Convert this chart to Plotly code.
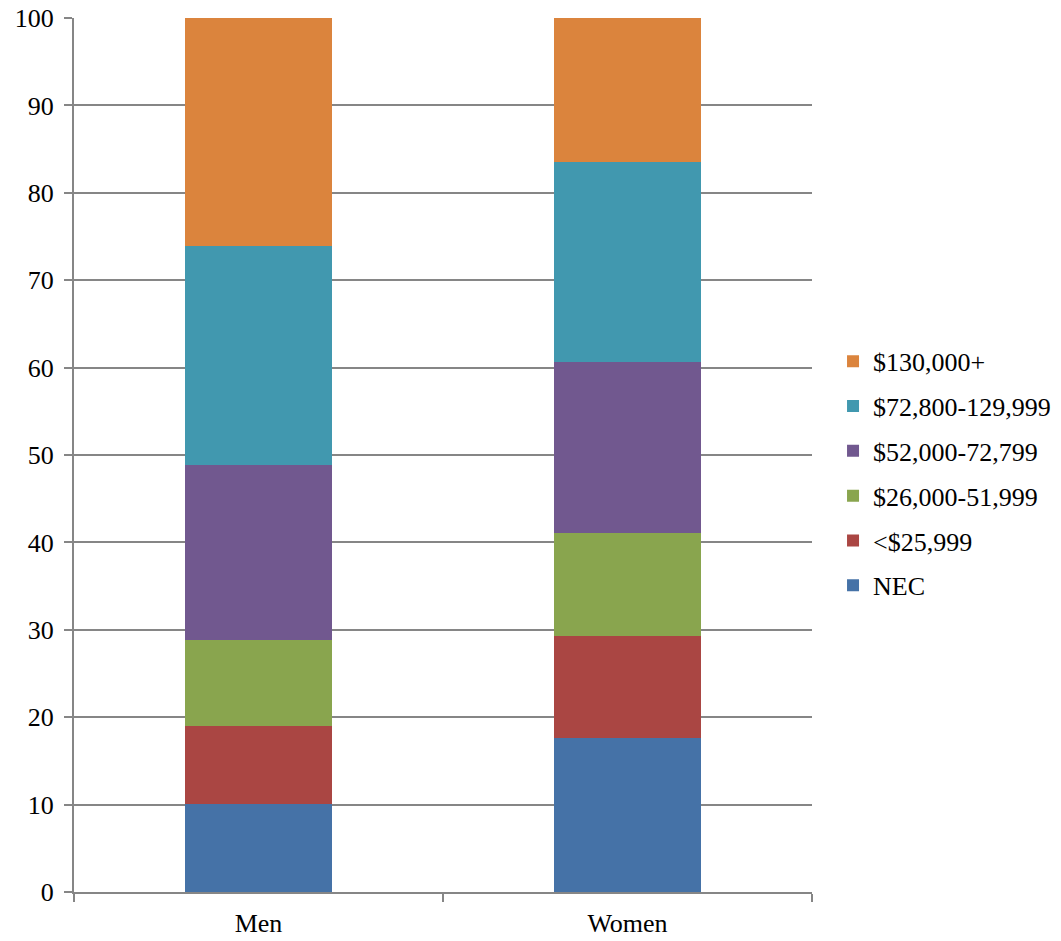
import plotly.graph_objects as go

categories = ["Men", "Women"]
series_names = ["NEC", "<$25,999", "$26,000-51,999", "$52,000-72,799", "$72,800-129,999", "$130,000+"]
nec = [10.1, 17.6]
under_26k = [8.9, 11.7]
r26_52k = [9.8, 11.8]
r52_73k = [20.1, 19.5]
r73_130k = [25.0, 22.9]
over_130k = [26.1, 16.5]
colors = ["#4572A7", "#AA4643", "#89A54E", "#71588F", "#4198AF", "#DB843D"]

values = [nec, under_26k, r26_52k, r52_73k, r73_130k, over_130k]

FONT = "'Times New Roman', 'Liberation Serif', serif"

fig = go.Figure()
n = len(series_names)
for i, (name, vals, col) in enumerate(zip(series_names, values, colors)):
    fig.add_trace(go.Bar(
        x=categories, y=vals, name=name, legendgroup=name,
        legendrank=n - i,
        marker=dict(color=col, line=dict(width=0)),
    ))

fig.update_layout(
    barmode="stack",
    bargap=0.6,
    width=1061, height=941,
    margin=dict(l=74, r=249, t=18, b=49, autoexpand=False),
    paper_bgcolor="white", plot_bgcolor="white",
    font=dict(family=FONT, size=26, color="black"),
    legend=dict(
        x=1.0285, y=0.479, xanchor="left", yanchor="middle",
        traceorder="grouped", tracegroupgap=8,
        font=dict(family=FONT, size=26, color="black"),
    ),
    xaxis=dict(
        showline=True, linecolor="#868686", linewidth=2,
        ticks="outside", tickson="boundaries", ticklen=8, tickcolor="#868686", tickwidth=1.5,
        ticklabelstandoff=7,
        tickfont=dict(family=FONT, size=26, color="black"),
        showgrid=False,
    ),
    yaxis=dict(
        range=[0, 100], dtick=10,
        showline=True, linecolor="#868686", linewidth=2,
        ticks="outside", ticklen=8, tickcolor="#868686", tickwidth=1.5,
        ticklabelstandoff=5,
        showgrid=True, gridcolor="#868686", gridwidth=1.5,
        tickfont=dict(family=FONT, size=26, color="black"),
        zeroline=False,
    ),
)

fig.write_html("out.html")
